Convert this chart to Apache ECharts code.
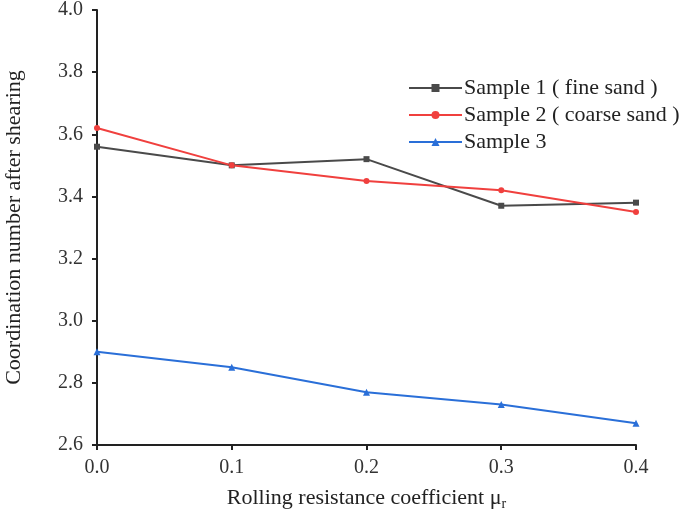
<!DOCTYPE html>
<html><head><meta charset="utf-8">
<script src="https://cdn.jsdelivr.net/npm/echarts@6/dist/echarts.min.js"></script>
<style>html,body{margin:0;padding:0;background:#fff}#c{width:685px;height:519px}</style>
</head><body><div id="c"></div>
<script>
const xValues = [0.0, 0.1, 0.2, 0.3, 0.4];
const sample1 = [3.56, 3.50, 3.52, 3.37, 3.38];
const sample2 = [3.62, 3.50, 3.45, 3.42, 3.35];
const sample3 = [2.90, 2.85, 2.77, 2.73, 2.67];
const seriesNames = ['Sample 1 ( fine sand )', 'Sample 2 ( coarse sand )', 'Sample 3'];

const font = '"Liberation Serif","Times New Roman",serif';
const chart = echarts.init(document.getElementById('c'));
const pair = (arr) => xValues.map((x, i) => [x, arr[i]]);
const mk = (name, data, color, symbol, size) => ({
  name, type: 'line', data: pair(data), symbol, symbolSize: size,
  itemStyle: { color }, lineStyle: { color, width: 2 }, clip: false
});
chart.setOption({
  animation: false,
  grid: { left: 97, right: 49, top: 10, bottom: 74, containLabel: false, outerBoundsMode: 'none' },
  legend: {
    orient: 'vertical', left: 403, top: 72, itemWidth: 53, itemHeight: 10, itemGap: 5,
    textStyle: { fontFamily: font, fontSize: 22, color: '#222', padding: [0, 0, 0, -3] },
    data: seriesNames
  },
  xAxis: {
    type: 'value', min: 0, max: 0.4, interval: 0.1,
    name: '{a|Rolling resistance coefficient μ}{s|r}',
    nameLocation: 'middle', nameGap: 40,
    nameTextStyle: { rich: {
      a: { fontFamily: font, fontSize: 22, color: '#222' },
      s: { fontFamily: font, fontSize: 14, color: '#222', verticalAlign: 'bottom', padding: [12, 0, 0, 0] }
    } },
    axisLine: { lineStyle: { color: '#222', width: 2 } },
    axisTick: { show: true, length: 5, inside: false, lineStyle: { color: '#222', width: 2 } },
    axisLabel: { fontFamily: font, fontSize: 20, color: '#333', margin: 13, formatter: v => v.toFixed(1) },
    splitLine: { show: false }
  },
  yAxis: {
    type: 'value', min: 2.6, max: 4.0, interval: 0.2,
    name: 'Coordination number after shearing',
    nameLocation: 'middle', nameGap: 72, nameRotate: 90,
    nameTextStyle: { fontFamily: font, fontSize: 22, color: '#222' },
    axisLine: { show: true, lineStyle: { color: '#222', width: 2 } },
    axisTick: { show: true, length: 5, inside: false, lineStyle: { color: '#222', width: 2 } },
    axisLabel: { fontFamily: font, fontSize: 20, color: '#333', margin: 14, formatter: v => v.toFixed(1) },
    splitLine: { show: false }
  },
  series: [
    mk(seriesNames[0], sample1, '#4a4a4a', 'rect', 6),
    mk(seriesNames[1], sample2, '#f0403e', 'circle', 6),
    mk(seriesNames[2], sample3, '#2a6fd8', 'triangle', 7)
  ]
});
</script></body></html>
